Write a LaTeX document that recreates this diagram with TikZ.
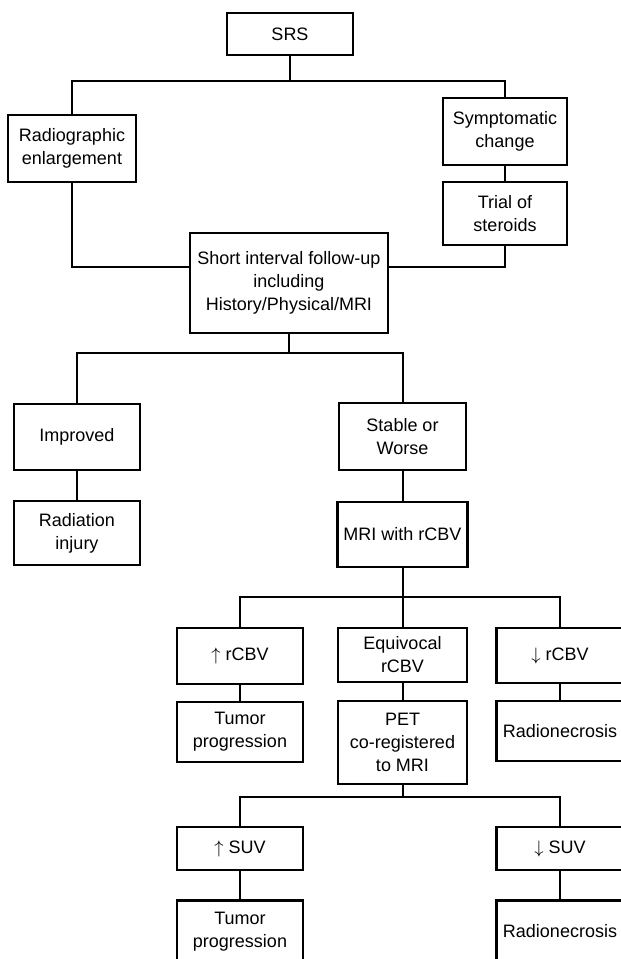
\documentclass[tikz,border=0pt]{standalone}
\usepackage{fontspec}
\setmainfont{Liberation Sans}
\usepackage{tikz}
\usetikzlibrary{positioning,calc}
\tikzset{box/.style={draw,line width=1.2pt,align=center,inner sep=1pt,font=\fontsize{9}{11.5}\selectfont},link/.style={line width=1pt}}

\begin{document}
\begin{tikzpicture}[x=0.5pt,y=-0.5pt]
\useasboundingbox (0,0) rectangle (621,959);
\node[box,minimum width=63pt,minimum height=21pt] (srs) at (290,34) {SRS};
\node[box,minimum width=64pt,minimum height=33.5pt] (rad) at (72,148.5) {Radiographic\\enlargement};
\node[box,minimum width=62pt,minimum height=33.5pt] (sym) at (505,131.5) {Symptomatic\\change};
\node[box,minimum width=62pt,minimum height=31.5pt] (tri) at (505,213.5) {Trial of\\steroids};
\node[box,minimum width=99pt,minimum height=50pt] (fu) at (289,283) {Short interval follow-up\\including\\History/Physical/MRI};
\node[box,minimum width=63pt,minimum height=33pt] (imp) at (77,437) {Improved};
\node[box,minimum width=63pt,minimum height=32pt] (inj) at (77,533) {Radiation\\injury};
\node[box,minimum width=63.5pt,minimum height=33.5pt] (stw) at (402.5,436.5) {Stable or\\Worse};
\node[box,minimum width=65pt,minimum height=32.5pt] (mri) at (402.5,534.5) {MRI with rCBV};
\node[box,minimum width=63pt,minimum height=28pt] (up) at (240,656) {$\uparrow$ rCBV};
\node[box,minimum width=64.5pt,minimum height=27pt] (eq) at (402.5,655) {Equivocal\\rCBV};
\node[box,minimum width=63.5pt,minimum height=27.5pt] (dn) at (560,655.5) {$\downarrow$ rCBV};
\node[box,minimum width=63pt,minimum height=30pt] (tp) at (240,732) {Tumor\\progression};
\node[box,minimum width=64.5pt,minimum height=41.5pt] (pet) at (402.5,742.5) {PET\\co-registered\\to MRI};
\node[box,minimum width=63.5pt,minimum height=30pt] (rn) at (560,731) {Radionecrosis};
\node[box,minimum width=63pt,minimum height=21.5pt] (us) at (240,848.5) {$\uparrow$ SUV};
\node[box,minimum width=63.5pt,minimum height=21.5pt] (ds) at (560,848.5) {$\downarrow$ SUV};
\node[box,minimum width=63pt,minimum height=31pt] (tp2) at (240,931.5) {Tumor\\progression};
\node[box,minimum width=63.5pt,minimum height=31pt] (rn2) at (560,931.5) {Radionecrosis};
% connectors
\draw[link] (srs.south) -- ++(0,25) coordinate (j1);
\draw[link] (rad.north) |- (j1) -| (sym.north);
\draw[link] (sym) -- (tri);
\draw[link] (rad.south) |- ([yshift=8pt]fu.west);
\draw[link] (tri.south) |- ([yshift=8pt]fu.east);
\draw[link] (fu.south) -- ++(0,19) coordinate (j2);
\draw[link] (imp.north) |- (j2) -| (stw.north);
\draw[link] (imp) -- (inj);
\draw[link] (stw) -- (mri);
\draw[link] (mri.south) -- ++(0,29) coordinate (j3);
\draw[link] (up.north) |- (j3) -| (dn.north);
\draw[link] (j3) -- (eq.north);
\draw[link] (up) -- (tp);
\draw[link] (eq) -- (pet);
\draw[link] (dn) -- (rn);
\draw[link] (pet.south) -- ++(0,12) coordinate (j4);
\draw[link] (us.north) |- (j4) -| (ds.north);
\draw[link] (us) -- (tp2);
\draw[link] (ds) -- (rn2);
\end{tikzpicture}
\end{document}
